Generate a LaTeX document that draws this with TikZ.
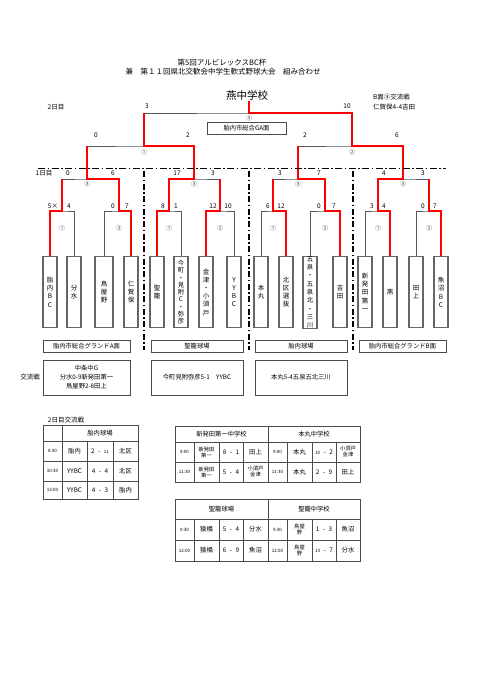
\documentclass[tikz,border=0pt]{standalone}
\usepackage{fontspec}
\setmainfont{Noto Sans CJK JP}
\newcommand\smn[1]{{\fontsize{4.5}{5}\selectfont #1}}
\newcommand\dsh{\hspace{3.5pt}-\hspace{3.5pt}}
\begin{document}
\begin{tikzpicture}[x=1pt,y=-1pt,
  gline/.style={draw=black!65, line width=0.8pt},
  rline/.style={draw=red, line width=1.8pt},
  team/.style={draw=black!60, line width=1.4pt, minimum width=14pt, minimum height=71pt, inner sep=0pt, anchor=north, align=center, font=\fontsize{6.5}{8.2}\selectfont},
  lbl/.style={font=\fontsize{6.5}{7.5}\selectfont, inner sep=0pt},
  ttl/.style={font=\fontsize{7.5}{8.5}\selectfont, inner sep=0pt},
  cn/.style={font=\fontsize{6}{7}\selectfont, inner sep=0pt, text=black!75},
  vbox/.style={draw=black!70, line width=0.8pt, inner sep=0pt, font=\fontsize{6.3}{9}\selectfont, align=center},
  ddh/.style={draw=black, line width=0.7pt, dash pattern=on 7pt off 2.5pt on 1.5pt off 2.5pt},
  ddv/.style={draw=black, line width=1.3pt, dash pattern=on 6pt off 2.5pt on 1.5pt off 2.5pt},
  tbl/.style={draw=black!70, line width=0.7pt},
  tc/.style={font=\fontsize{6.3}{7}\selectfont, inner sep=0pt},
  tc2/.style={font=\fontsize{5.3}{6}\selectfont, inner sep=0pt, align=center},
  tt/.style={font=\fontsize{4.5}{5}\selectfont, inner sep=0pt}
]
\path[use as bounding box, fill=white] (0,0) rectangle (480,679);

% titles
\node[ttl] (title1) at (222,63) {第5回アルビレックスBC杯};
\node[ttl] (title2) at (223,72) {兼　第１１回県北交歓会中学生軟式野球大会　組み合わせ};
\node[font=\fontsize{10.5}{12}\selectfont, inner sep=0pt] (champ) at (247,96) {燕中学校};
\node[lbl, anchor=west] (bnote1) at (373,97) {B面③交流戦};
\node[lbl, anchor=west] (bnote2) at (373,107) {仁賀保4-4吉田};
\node[lbl] (day2) at (56,107) {2日目};
\node[lbl] (day1) at (44,173) {1日目};

% teams
\node[team] (tA1) at (50,256) {胎\\内\\B\\C};
\node[team] (tA2) at (74,256) {分\\水};
\node[team, minimum width=18pt] (tA3) at (104,256) {鳥\\屋\\野};
\node[team] (tA4) at (131,256) {仁\\賀\\保};
\node[team] (tB1) at (157,256) {聖\\籠};
\node[team, font=\fontsize{6.3}{7.3}\selectfont] (tB2) at (181,256) {今\\町\\・\\見\\附\\C\\・\\弥\\彦};
\node[team] (tB3) at (206,256) {金\\津\\・\\小\\須\\戸};
\node[team] (tB4) at (234,256) {Y\\Y\\B\\C};
\node[team] (tC1) at (261,256) {本\\丸};
\node[team] (tC2) at (286,256) {北\\区\\選\\抜};
\node[team, font=\fontsize{6.3}{8.3}\selectfont] (tC3) at (310,256) {五\\泉\\・\\五\\泉\\北\\・\\三\\川};
\node[team] (tC4) at (340,256) {吉\\田};
\node[team] (tD1) at (365,256) {新\\発\\田\\第\\一};
\node[team] (tD2) at (390,256) {燕};
\node[team] (tD3) at (416,256) {田\\上};
\node[team] (tD4) at (441,256) {魚\\沼\\B\\C};

% junctions
\coordinate (A1) at (62,211);  \coordinate (A2) at (119,211);
\coordinate (B1) at (169,211); \coordinate (B2) at (220,211);
\coordinate (C1) at (273,211); \coordinate (C2) at (325,211);
\coordinate (D1) at (378,211); \coordinate (D2) at (429,211);
\coordinate (QA) at (87,179);  \coordinate (QB) at (194,179);
\coordinate (QC) at (298,179); \coordinate (QD) at (403,179);
\coordinate (SL) at (144,146); \coordinate (SR) at (352,146);
\coordinate (F) at (249,113);

% gray bracket
\draw[gline] (tA1.north) |- (A1) -| (tA2.north);
\draw[gline] (tA3.north) |- (A2) -| (tA4.north);
\draw[gline] (tB1.north) |- (B1) -| (tB2.north);
\draw[gline] (tB3.north) |- (B2) -| (tB4.north);
\draw[gline] (tC1.north) |- (C1) -| (tC2.north);
\draw[gline] (tC3.north) |- (C2) -| (tC4.north);
\draw[gline] (tD1.north) |- (D1) -| (tD2.north);
\draw[gline] (tD3.north) |- (D2) -| (tD4.north);
\draw[gline] (A1) |- (QA) -| (A2);
\draw[gline] (B1) |- (QB) -| (B2);
\draw[gline] (C1) |- (QC) -| (C2);
\draw[gline] (D1) |- (QD) -| (D2);
\draw[gline] (QA) |- (SL) -| (QB);
\draw[gline] (QC) |- (SR) -| (QD);
\draw[gline] (SL) |- (F) -| (SR);

% red paths
\draw[rline] (tA1.north) |- (A1) -- (A1 |- QA);
\draw[rline] (tA4.north) |- (A2) |- (QA) -- (QA |- SL);
\draw[rline] (tB1.north) |- (B1) |- (QB) |- (SL) -- (SL |- F);
\draw[rline] (tB3.north) |- (B2) -- (B2 |- QB);
\draw[rline] (tC2.north) |- (C1) -- (C1 |- QC);
\draw[rline] (tC4.north) |- (C2) |- (QC) -- (QC |- SR);
\draw[rline] (tD2.north) |- (D1) |- (QD) |- (SR) |- (F) -- (F |- champ.south);
\draw[rline] (tD4.north) |- (D2) -- (D2 |- QD);

% round 1 scores
\node[lbl] (sa1) at (53,206) {5×};  \node[lbl] (sa2) at (69,206) {4};
\node[lbl] (sa3) at (113,206) {0};  \node[lbl] (sa4) at (127,206) {7};
\node[lbl] (sb1) at (163,206) {8};  \node[lbl] (sb2) at (176,206) {1};
\node[lbl] (sb3) at (213,206) {12}; \node[lbl] (sb4) at (228,206) {10};
\node[lbl] (sc1) at (268,206) {6};  \node[lbl] (sc2) at (281,206) {12};
\node[lbl] (sc3) at (319,206) {0};  \node[lbl] (sc4) at (334,206) {7};
\node[lbl] (sd1) at (372,206) {3};  \node[lbl] (sd2) at (384,206) {4};
\node[lbl] (sd3) at (423,206) {0};  \node[lbl] (sd4) at (435,206) {7};
% quarter scores
\node[lbl] (qa1) at (68,173) {0};   \node[lbl] (qa2) at (113,173) {6};
\node[lbl] (qb1) at (177,173) {17}; \node[lbl] (qb2) at (213,173) {3};
\node[lbl] (qc1) at (280,173) {3};  \node[lbl] (qc2) at (319,173) {7};
\node[lbl] (qd1) at (384,173) {4};  \node[lbl] (qd2) at (423,173) {3};
% semi scores
\node[lbl] (ss1) at (96,135) {0};   \node[lbl] (ss2) at (188,135) {2};
\node[lbl] (ss3) at (305,135) {2};  \node[lbl] (ss4) at (397,135) {6};
% final scores
\node[lbl] (fs1) at (147,106) {3};  \node[lbl] (fs2) at (347,106) {10};

% circled labels
\node[cn] (ca1) at (62,228) {①};  \node[cn] (ca2) at (119,228) {②};
\node[cn] (cb1) at (169,228) {①}; \node[cn] (cb2) at (220,228) {②};
\node[cn] (cc1) at (273,228) {①}; \node[cn] (cc2) at (325,228) {②};
\node[cn] (cd1) at (378,228) {①}; \node[cn] (cd2) at (429,228) {②};
\node[cn] (cqa) at (87,184) {③};  \node[cn] (cqb) at (194,184) {③};
\node[cn] (cqc) at (298,184) {③}; \node[cn] (cqd) at (403,184) {③};
\node[cn] (csl) at (144,152) {①}; \node[cn] (csr) at (352,152) {②};
\node[cn] (cf) at (249,118) {③};
\node[vbox, minimum width=79pt, minimum height=12.5pt] (ga) at (246.5,128.5) {胎内市総合GA面};

% separators
\draw[ddh] (38,168) -- (446,168);
\draw[ddv] (144,171) -- (144,350);
\draw[ddv] (249,171) -- (249,350);
\draw[ddv] (353,171) -- (353,350);

% venues
\node[vbox, minimum width=87pt, minimum height=12pt] (ven1) at (86.5,346) {胎内市総合グランドA面};
\node[vbox, minimum width=92pt, minimum height=12pt] (ven2) at (197,346) {聖籠球場};
\node[vbox, minimum width=92pt, minimum height=12pt] (ven3) at (301,346) {胎内球場};
\node[vbox, minimum width=87pt, minimum height=12pt] (ven4) at (402.5,346) {胎内市総合グランドB面};
\node[vbox, minimum width=87pt, minimum height=35pt] (ex1) at (86.5,377.5) {中条中G\\分水0-9新発田第一\\鳥屋野2-8田上};
\node[vbox, minimum width=92pt, minimum height=35pt] (ex2) at (197,377.5) {今町見附弥彦5-1　YYBC};
\node[vbox, minimum width=92pt, minimum height=35pt] (ex3) at (301,377.5) {本丸5-4五泉五北三川};
\node[lbl] (exl) at (30,377) {交流戦};

% table 1
\node[lbl] (t1ttl) at (66,420) {2日目交流戦};
\draw[tbl] (43,425) rectangle (138,499);
\draw[tbl] (43,441) -- (138,441) (43,461) -- (138,461) (43,481) -- (138,481);
\draw[tbl] (62,425) -- (62,499) (87,441) -- (87,499) (113,441) -- (113,499);
\node[tc] (t1h) at (100,433) {胎内球場};
\node[tt] (t1a1) at (52.5,451) {8:30};  \node[tc] (t1a2) at (74.5,451) {胎内}; \node[tc] (t1a3) at (100,451) {2\dsh\smn{11}}; \node[tc] (t1a4) at (125.5,451) {北区};
\node[tt] (t1b1) at (52.5,471) {10:30}; \node[tc] (t1b2) at (74.5,471) {YYBC}; \node[tc] (t1b3) at (100,471) {4\dsh 4}; \node[tc] (t1b4) at (125.5,471) {北区};
\node[tt] (t1c1) at (52.5,490) {13:00}; \node[tc] (t1c2) at (74.5,490) {YYBC}; \node[tc] (t1c3) at (100,490) {4\dsh 3}; \node[tc] (t1c4) at (125.5,490) {胎内};

% table 2
\draw[tbl] (175,426) rectangle (360,482);
\draw[tbl] (175,442) -- (360,442) (175,462) -- (360,462) (268,426) -- (268,482);
\draw[tbl] (194,442) -- (194,482) (219,442) -- (219,482) (243,442) -- (243,482)
           (287,442) -- (287,482) (312,442) -- (312,482) (336,442) -- (336,482);
\node[tc] (t2h1) at (221.5,434) {新発田第一中学校};
\node[tc] (t2h2) at (314,434) {本丸中学校};
\node[tt] (t2a1) at (184.5,452) {9:00};
\node[tc2] (t2a2) at (206.5,452) {新発田\\第一};
\node[tc] (t2a3) at (231,452) {8\dsh 1};
\node[tc] (t2a4) at (255.5,452) {田上};
\node[tt] (t2a5) at (277.5,452) {9:00};
\node[tc] (t2a6) at (299.5,452) {本丸};
\node[tc] (t2a7) at (324,452) {\smn{10}\dsh 2};
\node[tc2] (t2a8) at (348,452) {小須戸\\金津};
\node[tt] (t2b1) at (184.5,472) {11:30};
\node[tc2] (t2b2) at (206.5,472) {新発田\\第一};
\node[tc] (t2b3) at (231,472) {5\dsh 4};
\node[tc2] (t2b4) at (255.5,472) {小須戸\\金津};
\node[tt] (t2b5) at (277.5,472) {11:30};
\node[tc] (t2b6) at (299.5,472) {本丸};
\node[tc] (t2b7) at (324,472) {2\dsh 9};
\node[tc] (t2b8) at (348,472) {田上};

% table 3
\draw[tbl] (175,499) rectangle (360,561);
\draw[tbl] (175,519) -- (360,519) (175,540) -- (360,540) (268,499) -- (268,561);
\draw[tbl] (194,519) -- (194,561) (219,519) -- (219,561) (243,519) -- (243,561)
           (287,519) -- (287,561) (312,519) -- (312,561) (336,519) -- (336,561);
\node[tc] (t3h1) at (221.5,509) {聖籠球場};
\node[tc] (t3h2) at (314,509) {聖籠中学校};
\node[tt] (t3a1) at (184.5,529.5) {9:30};
\node[tc] (t3a2) at (206.5,529.5) {猿橋};
\node[tc] (t3a3) at (231,529.5) {5\dsh 4};
\node[tc] (t3a4) at (255.5,529.5) {分水};
\node[tt] (t3a5) at (277.5,529.5) {9:30};
\node[tc2] (t3a6) at (299.5,529.5) {鳥屋\\野};
\node[tc] (t3a7) at (324,529.5) {1\dsh 3};
\node[tc] (t3a8) at (348,529.5) {魚沼};
\node[tt] (t3b1) at (184.5,550.5) {12:00};
\node[tc] (t3b2) at (206.5,550.5) {猿橋};
\node[tc] (t3b3) at (231,550.5) {6\dsh 9};
\node[tc] (t3b4) at (255.5,550.5) {魚沼};
\node[tt] (t3b5) at (277.5,550.5) {12:00};
\node[tc2] (t3b6) at (299.5,550.5) {鳥屋\\野};
\node[tc] (t3b7) at (324,550.5) {\smn{13}\dsh 7};
\node[tc] (t3b8) at (348,550.5) {分水};
\end{tikzpicture}
\end{document}
